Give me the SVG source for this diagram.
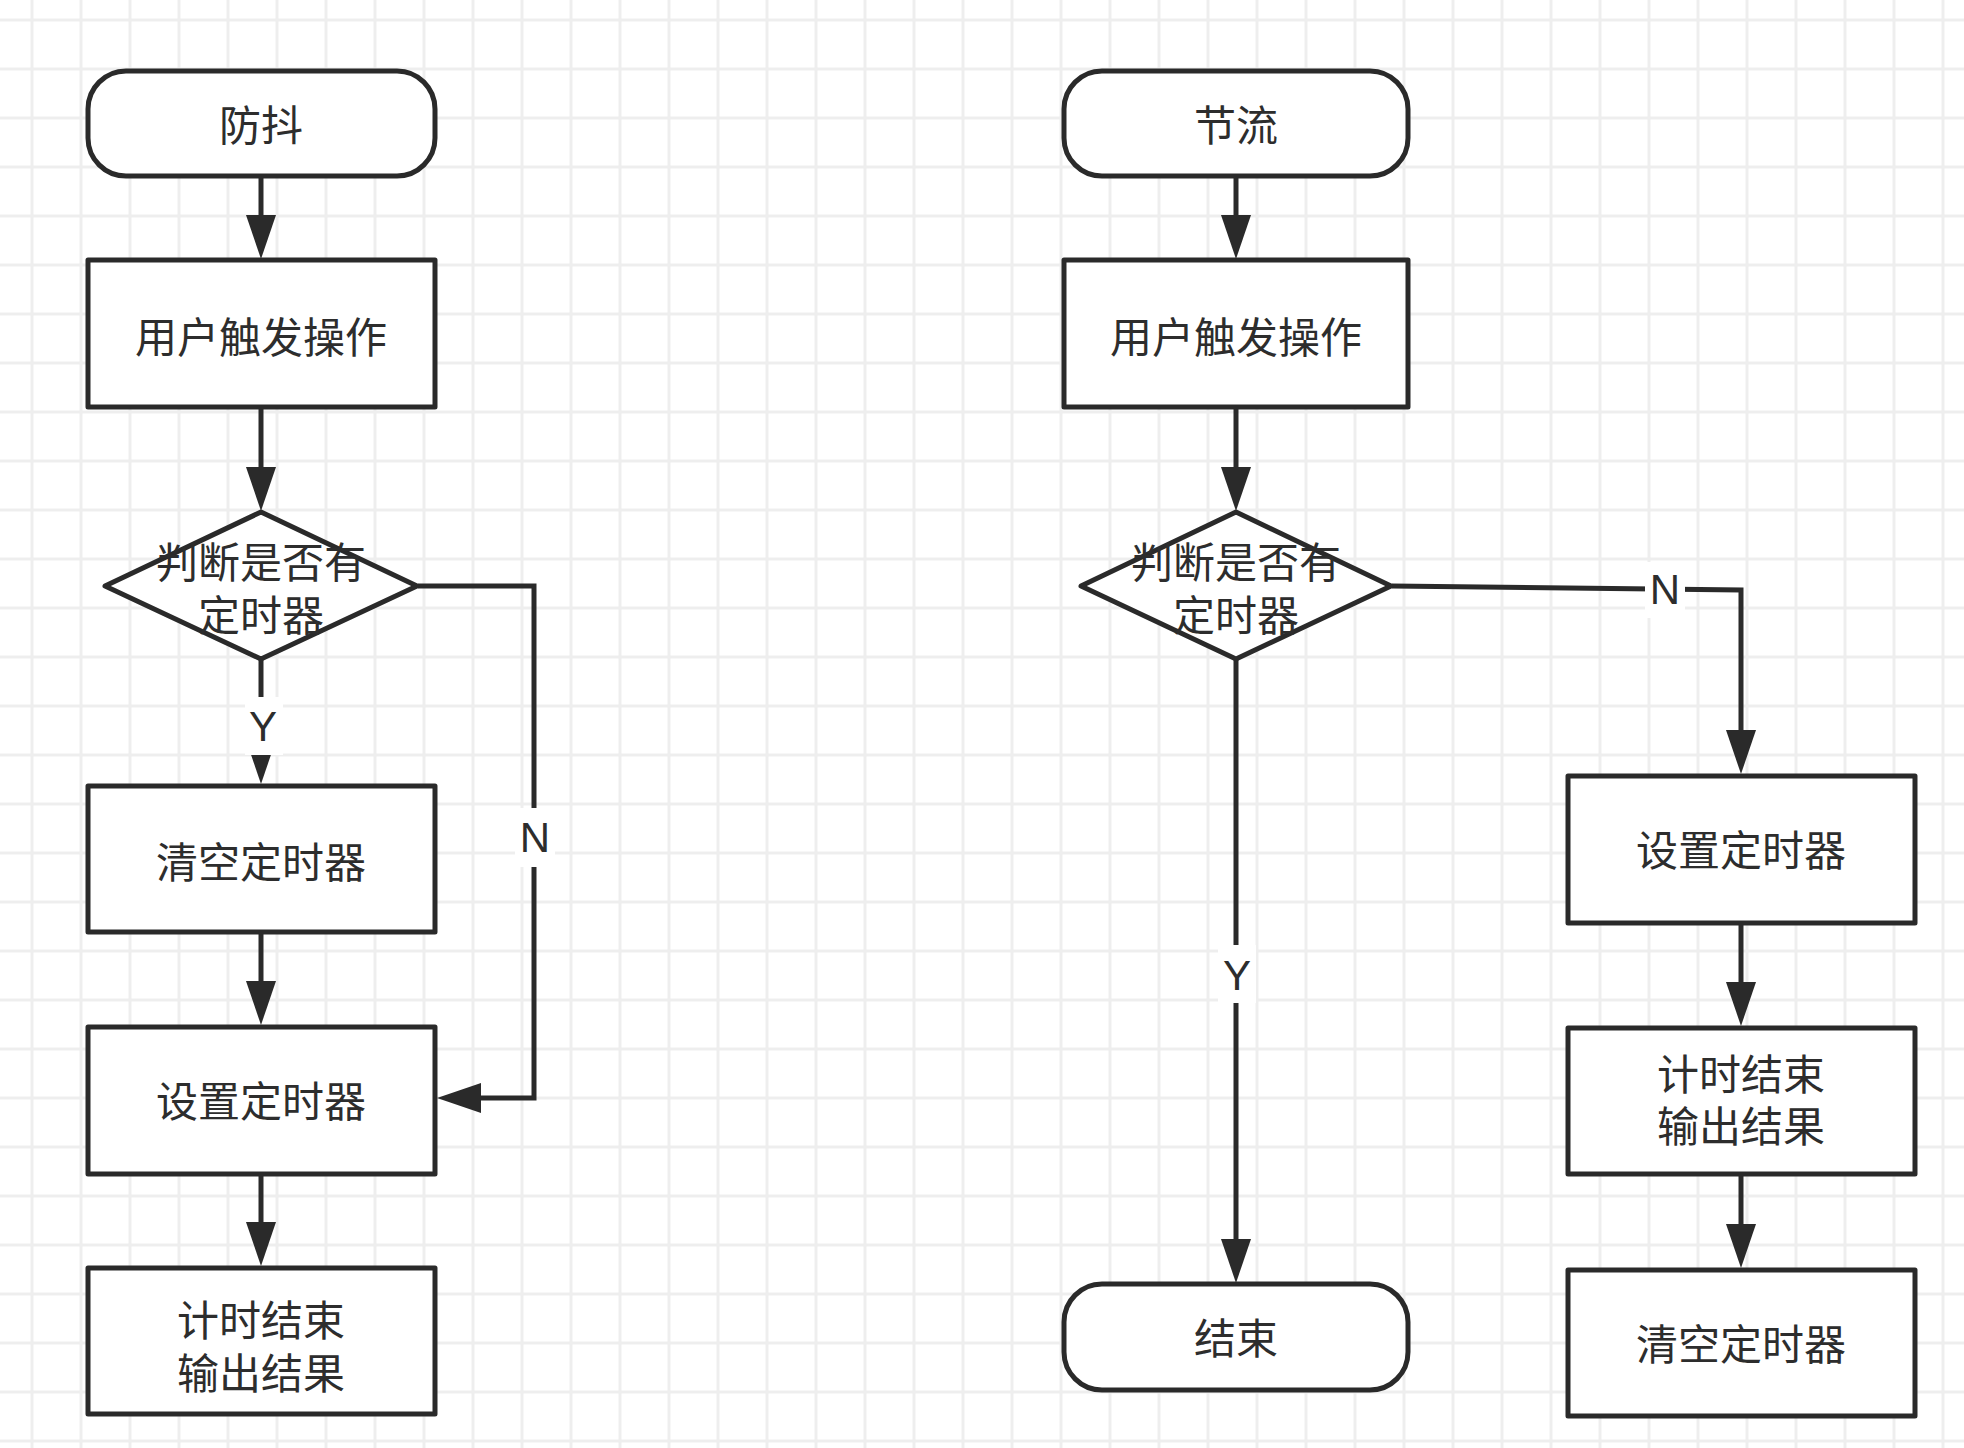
<svg xmlns="http://www.w3.org/2000/svg" width="1964" height="1448" viewBox="0 0 1964 1448">
<style>
.shape{fill:#ffffff;stroke:#2a2a2a;stroke-width:5;stroke-linejoin:round}
.lbl{font-family:"Noto Sans CJK SC","Noto Sans",sans-serif;font-size:42px;fill:#2d2d2d;text-anchor:middle;dominant-baseline:central}
.edge{fill:none;stroke:#2a2a2a;stroke-width:5;stroke-linejoin:miter}
.arr{marker-end:url(#ah)}
.elbl{font-family:"Liberation Sans","Noto Sans",sans-serif;font-size:42px;fill:#2d2d2d;text-anchor:middle;dominant-baseline:central}
.ebg{fill:#ffffff;stroke:none}
</style>
<defs>
<pattern id="grid" x="7.5" y="-4.5" width="49" height="49" patternUnits="userSpaceOnUse">
<path d="M24.5,0 V49 M0,24.5 H49" stroke="#eeeeee" stroke-width="3" fill="none"/>
</pattern>
<marker id="ah" viewBox="0 0 44 30" refX="14" refY="15" markerWidth="44" markerHeight="30" markerUnits="userSpaceOnUse" orient="auto">
<path d="M0,0 L44,15 L0,30 Z" fill="#2a2a2a"/>
</marker>
</defs>
<rect x="0" y="0" width="1964" height="1448" fill="#ffffff"/>
<rect x="0" y="0" width="1964" height="1448" fill="url(#grid)"/>

<g id="connectors">
<path class="edge arr" d="M261,177 V229"/>
<path class="edge arr" d="M261,408 V481"/>
<path class="edge arr" d="M261,659 V754"/>
<path class="edge arr" d="M261,933 V995"/>
<path class="edge arr" d="M261,1175 V1236"/>
<path class="edge arr" d="M418,586 H534 V1098 H467"/>
<path class="edge arr" d="M1236,177 V229"/>
<path class="edge arr" d="M1236,408 V481"/>
<path class="edge arr" d="M1236,659 V1253"/>
<path class="edge arr" d="M1392,586 L1741,590 V744"/>
<path class="edge arr" d="M1741,924 V996"/>
<path class="edge arr" d="M1741,1175 V1238"/>
<g id="edge-labels">
<rect class="ebg" x="245" y="697" width="38" height="58"/>
<text class="elbl" x="263" y="726">Y</text>
<rect class="ebg" x="515" y="808" width="40" height="59"/>
<text class="elbl" x="535" y="837">N</text>
<rect class="ebg" x="1218" y="945" width="38" height="58"/>
<text class="elbl" x="1237" y="975">Y</text>
<rect class="ebg" x="1645" y="562" width="40" height="56"/>
<text class="elbl" x="1665" y="589">N</text>
</g>
</g>

<g id="n-fangdou">
<rect class="shape" x="88" y="71" width="347" height="105" rx="38" ry="38"/>
<text class="lbl" x="261" y="122">防抖</text>
</g>
<g id="n-l-user">
<rect class="shape" x="88" y="260" width="347" height="147"/>
<text class="lbl" x="261" y="334">用户触发操作</text>
</g>
<g id="n-l-decide">
<polygon class="shape" points="261,512 417,586 261,659 105,586"/>
<text class="lbl" x="261" y="559">判断是否有</text>
<text class="lbl" x="261" y="612">定时器</text>
</g>
<g id="n-l-clear">
<rect class="shape" x="88" y="786" width="347" height="146"/>
<text class="lbl" x="261" y="859">清空定时器</text>
</g>
<g id="n-l-set">
<rect class="shape" x="88" y="1027" width="347" height="147"/>
<text class="lbl" x="261" y="1098">设置定时器</text>
</g>
<g id="n-l-end">
<rect class="shape" x="88" y="1268" width="347" height="146"/>
<text class="lbl" x="261" y="1317">计时结束</text>
<text class="lbl" x="261" y="1370">输出结果</text>
</g>

<g id="n-jieliu">
<rect class="shape" x="1064" y="71" width="344" height="105" rx="38" ry="38"/>
<text class="lbl" x="1236" y="122">节流</text>
</g>
<g id="n-r-user">
<rect class="shape" x="1064" y="260" width="344" height="147"/>
<text class="lbl" x="1236" y="334">用户触发操作</text>
</g>
<g id="n-r-decide">
<polygon class="shape" points="1236,512 1391,586 1236,659 1081,586"/>
<text class="lbl" x="1236" y="559">判断是否有</text>
<text class="lbl" x="1236" y="612">定时器</text>
</g>
<g id="n-r-finish">
<rect class="shape" x="1064" y="1284" width="344" height="106" rx="38" ry="38"/>
<text class="lbl" x="1236" y="1335">结束</text>
</g>
<g id="n-r-set">
<rect class="shape" x="1568" y="776" width="347" height="147"/>
<text class="lbl" x="1741" y="847">设置定时器</text>
</g>
<g id="n-r-end">
<rect class="shape" x="1568" y="1028" width="347" height="146"/>
<text class="lbl" x="1741" y="1071">计时结束</text>
<text class="lbl" x="1741" y="1123">输出结果</text>
</g>
<g id="n-r-clear">
<rect class="shape" x="1568" y="1270" width="347" height="146"/>
<text class="lbl" x="1741" y="1341">清空定时器</text>
</g>
</svg>
